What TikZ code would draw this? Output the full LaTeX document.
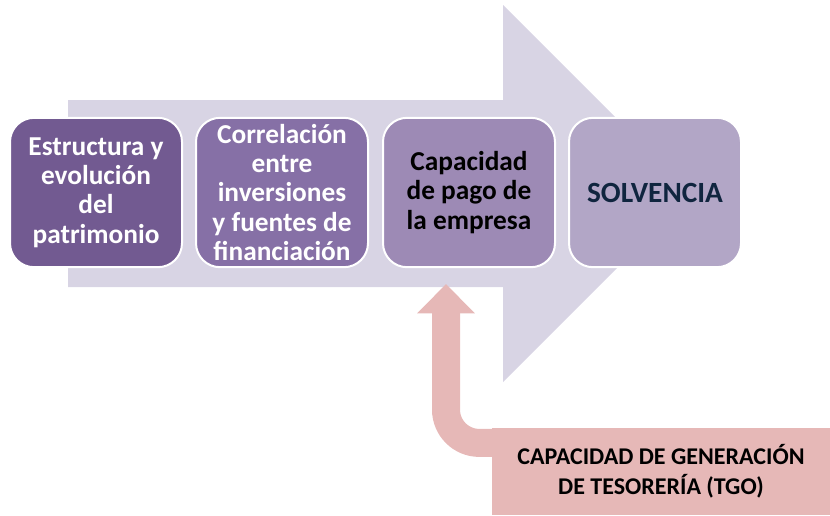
\documentclass[tikz,border=0pt]{standalone}
\usepackage{fontspec}
\setmainfont{Carlito}
\usetikzlibrary{arrows.meta}
\definecolor{flowbg}{HTML}{D8D4E4}
\definecolor{stepa}{HTML}{725A91}
\definecolor{stepb}{HTML}{8670A6}
\definecolor{stepc}{HTML}{9D8AB5}
\definecolor{stepd}{HTML}{B2A6C6}
\definecolor{navy}{HTML}{10253F}
\definecolor{tgopink}{HTML}{E6B8B7}
\tikzset{
  stagebox/.style={draw=white, line width=1.5pt, rounded corners=18pt,
    minimum width=129pt, minimum height=112pt, align=center,
    font=\fontsize{20.5}{21.9}\selectfont\bfseries, inner sep=0pt},
  tgobox/.style={fill=tgopink, minimum width=253.5pt, minimum height=65pt,
    align=center, font=\fontsize{18}{22.5}\selectfont\bfseries, inner sep=0pt},
  tgoarrow/.style={draw=tgopink, line width=21pt, rounded corners=25pt,
    -{Triangle[width=42pt, length=22pt]}}
}
\begin{document}
\begin{tikzpicture}[x=0.75pt, y=-0.75pt]
      \useasboundingbox (0,0) rectangle (830,515);
      \fill[flowbg] (68,100) -- (503,100) -- (503,5) -- (691.5,193.5)
        -- (503,382) -- (503,287) -- (68,287) -- cycle;
      \draw
        (96,192.5) node[stagebox, fill=stepa, text=white] (estructura)
          {Estructura y\\evolución\\del\\patrimonio}
        (282,192.5) node[stagebox, fill=stepb, text=white] (correlacion)
          {Correlación\\entre\\inversiones\\y fuentes de\\financiación}
        (469,192.5) node[stagebox, fill=stepc, text=black] (capacidad)
          {Capacidad\\de pago de\\la empresa}
        (655,192.5) node[stagebox, fill=stepd, text=navy,
          font=\fontsize{22}{25}\selectfont\bfseries] (solvencia) {SOLVENCIA};
      \node[tgobox] (tgo) at (661,471.5)
        {CAPACIDAD DE GENERACIÓN\\DE TESORERÍA (TGO)};
      \coordinate (tip) at (446,284);
      \draw[tgoarrow] ([xshift=3pt, yshift=-11.25pt]tgo.north west) -| (tip);
    \end{tikzpicture}
\end{document}
